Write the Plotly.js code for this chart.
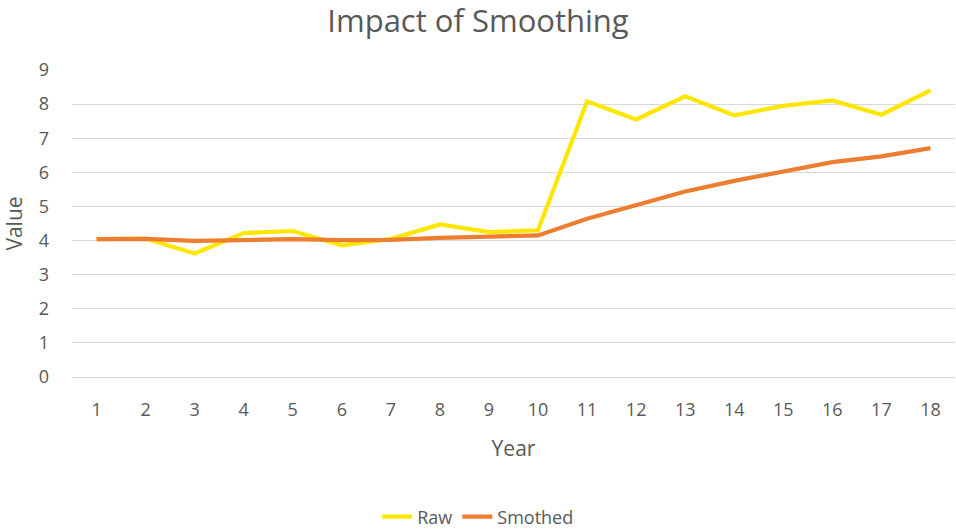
<!DOCTYPE html>
<html>
<head>
<meta charset="utf-8">
<script src="https://cdn.plot.ly/plotly-3.0.1.min.js"></script>
<style>html,body{margin:0;padding:0;background:#fff;}#chart{width:956px;height:530px;}</style>
</head>
<body>
<div id="chart"></div>
<script>
const years = ["1","2","3","4","5","6","7","8","9","10","11","12","13","14","15","16","17","18"];
const raw = [4.04,4.06,3.62,4.22,4.28,3.86,4.05,4.47,4.25,4.30,8.08,7.55,8.23,7.67,7.95,8.11,7.69,8.40];
const smoothed = [4.04,4.05,3.99,4.01,4.04,4.01,4.02,4.08,4.11,4.15,4.64,5.03,5.44,5.75,6.03,6.30,6.47,6.71];
const yTicks = [0,1,2,3,4,5,6,7,8,9];

const font = "Open Sans, sans-serif";
const grey = "#595959";

const data = [
  {x: years, y: raw, type: "scatter", mode: "lines", name: "Raw",
   line: {color: "#FFE600", width: 4.2}},
  {x: years, y: smoothed, type: "scatter", mode: "lines", name: "Smothed",
   line: {color: "#ED7D31", width: 4.2}}
];

const layout = {
  width: 956, height: 530,
  paper_bgcolor: "#fff", plot_bgcolor: "#fff",
  margin: {l: 72, r: 1, t: 70, b: 153, autoexpand: false},
  font: {family: font, color: grey, size: 18},
  title: {text: "Impact of Smoothing", font: {family: font, size: 31, color: grey}, x: 0.5, xanchor: "center", yref: "container", y: 0.96, yanchor: "middle"},
  xaxis: {
    type: "category", range: [-0.5, 17.5], automargin: false,
    showgrid: false, zeroline: false, showline: false,
    ticks: "", tickfont: {size: 18, color: grey},
    ticklabelstandoff: 20,
    title: {text: "Year", font: {size: 21, color: grey}, standoff: 21}
  },
  yaxis: {
    range: [0, 9], tickvals: yTicks, automargin: false, showgrid: true, gridcolor: "#d9d9d9", gridwidth: 1,
    zeroline: true, zerolinecolor: "#d9d9d9", zerolinewidth: 1,
    showline: false, ticks: "", tickfont: {size: 18, color: grey},
    ticklabelstandoff: 22,
    title: {text: "Value", font: {size: 21, color: grey}, standoff: 10}
  },
  showlegend: true,
  legend: {orientation: "h", x: 0.46, xanchor: "center", y: -0.456, yanchor: "middle",
    font: {size: 18, color: grey}, itemwidth: 30}
};

Plotly.newPlot("chart", data, layout, {displayModeBar: false, staticPlot: true});
</script>
</body>
</html>
